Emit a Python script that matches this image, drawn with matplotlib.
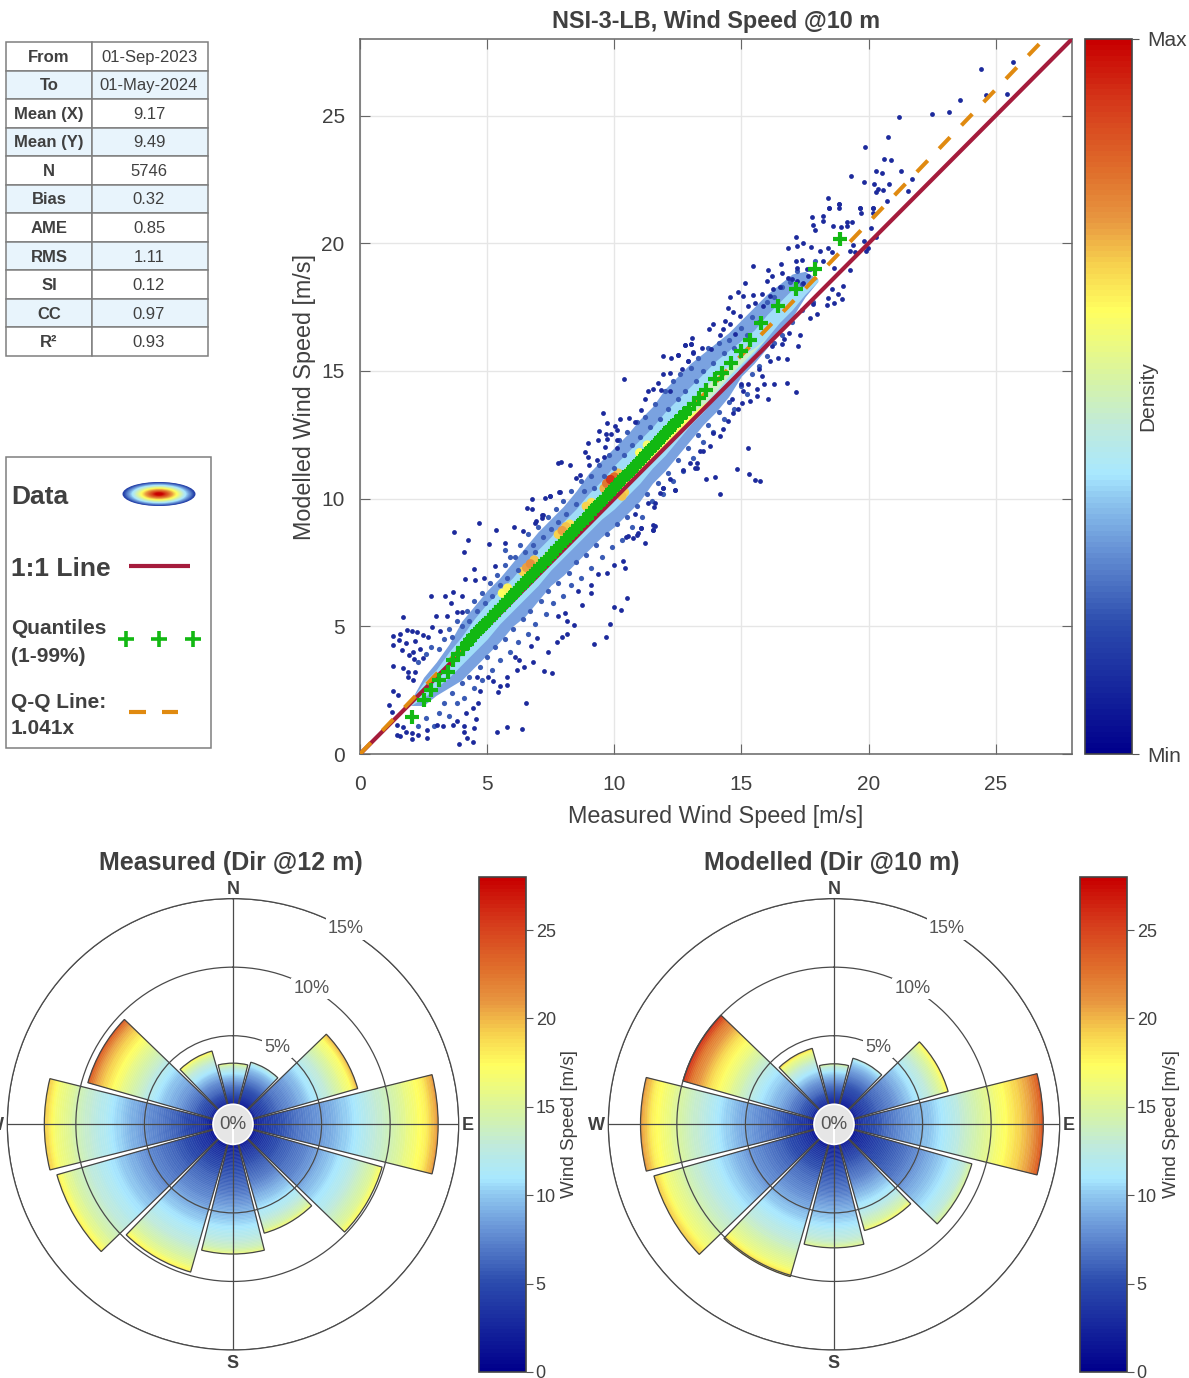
import numpy as np
from matplotlib import pyplot as plt
from matplotlib.cm import ScalarMappable
from matplotlib.colors import LinearSegmentedColormap, Normalize
from matplotlib.patches import Ellipse, Rectangle

W, H = 1189, 1378

# stats table
table_labels = ['From', 'To', 'Mean (X)', 'Mean (Y)', 'N', 'Bias', 'AME', 'RMS', 'SI', 'CC', 'R²']
table_values = ['01-Sep-2023', '01-May-2024', '9.17', '9.49', '5746', '0.32', '0.85', '1.11', '0.12', '0.97', '0.93']

# isolated points
dots_x = [3.71, 4.68, 4.26, 4.10, 4.50, 2.80, 1.69, 1.31, 1.57, 1.83, 2.06, 2.25, 2.49, 2.82, 2.99, 1.31, 1.53, 1.81,
          1.66, 2.16, 2.36, 2.10, 1.93, 2.14, 2.49, 1.31, 1.70, 1.87, 2.16, 1.90, 2.10, 1.31, 1.51, 1.13, 1.25, 1.44,
          1.70, 1.44, 1.57, 1.80, 2.03, 2.29, 2.03, 2.62, 2.62, 3.01, 3.28, 3.67, 3.80, 4.09, 4.10, 4.19, 4.46, 3.91,
          4.50, 4.56, 4.17, 4.46, 4.65, 5.39, 5.79, 6.38, 6.53, 4.72, 5.44, 5.50, 5.79, 5.24, 5.79, 5.05, 4.61, 6.16,
          6.45, 7.23, 7.54, 6.82, 6.26, 6.09, 7.38, 6.71, 6.95, 7.73, 7.93, 8.15, 9.20, 9.67, 9.83, 9.99, 10.25, 10.50,
          8.43, 8.15, 7.80, 8.06, 8.73, 9.10, 9.07, 8.58, 9.36, 9.70, 10.0, 10.42, 10.33, 11.22, 11.53, 11.59, 11.07,
          10.75, 10.48, 10.92, 5.35, 5.09, 6.07, 6.55, 6.75, 6.78, 5.31, 4.13, 3.34, 3.67, 4.0, 3.56, 3.41, 4.0, 3.80,
          3.15, 2.69, 7.86, 7.47, 7.18, 6.42, 5.70, 6.88, 4.52, 4.88,
          10.39, 9.55, 9.70, 9.41, 9.37, 9.67, 9.86, 9.73, 8.98, 8.85, 8.98, 9.33, 9.59, 9.63, 10.09, 10.12, 10.03,
          10.22, 10.12, 10.59, 10.81, 7.9, 7.8, 8.26, 9.0, 8.65, 8.49, 7.84, 7.27, 7.47, 6.92, 7.14, 7.14,
          11.93, 12.22, 12.52, 12.78, 13.02, 13.11, 12.88, 12.65, 12.19, 11.93, 11.73, 11.53, 11.34, 11.82, 12.19,
          11.2, 11.04, 12.39, 11.93, 11.6, 11.56, 11.34, 10.81, 11.53, 11.53, 11.07, 10.88, 10.55, 13.37, 13.24, 13.24,
          18.43, 18.83, 18.83, 19.66, 19.69, 20.16, 17.79, 18.22, 17.83, 17.89, 18.19, 18.59, 18.90, 19.14, 19.36,
          19.14, 20.08, 20.29, 19.82, 19.90, 19.96, 17.14, 17.43, 16.84, 17.20, 17.72, 18.09, 18.41, 18.55, 19.40,
          19.27, 19.46, 18.22, 17.14, 17.39, 16.55, 15.47, 16.03, 16.58, 16.19, 15.99, 15.14, 17.17, 17.56, 18.65,
          19.27, 19.0, 18.55, 18.81, 18.94, 18.41, 18.35, 18.65, 17.83, 17.96, 17.69, 16.84, 16.97, 17.17, 17.43,
          17.63, 16.25, 16.51, 14.88, 14.57, 15.07, 15.47, 15.79, 16.12, 15.27, 15.53, 15.86, 14.48, 14.68, 14.94,
          14.35, 13.89, 13.72, 14.29, 14.55, 14.16, 14.75, 13.04, 12.78, 13.02, 13.43, 13.79, 13.11, 12.52, 12.90,
          17.3, 16.87, 17.24, 16.67, 16.58, 16.19, 16.12, 16.45, 16.78, 15.70, 15.79, 15.90, 16.28, 16.78, 17.13,
          16.06, 15.60, 15.60, 15.27, 14.98, 15.34, 15.01, 15.07, 14.61, 14.88, 14.68, 14.48, 14.29, 13.89, 14.16,
          13.76, 13.5, 12.98, 13.17, 15.24, 14.81, 15.30, 15.53, 15.73, 13.97, 13.61, 14.16, 12.39, 11.80, 12.19,
          11.93, 12.71,
          25.67, 24.41, 24.62, 25.43, 23.6, 23.18, 22.49, 21.21, 20.76, 19.85, 20.62, 20.88, 20.29, 20.54, 21.27,
          19.31, 19.81, 20.21, 20.82, 20.36, 20.29, 20.55, 21.54, 21.69, 18.42, 18.85, 18.44, 19.66, 20.16, 20.16, 20.71]
dots_y = [8.71, 9.03, 8.38, 7.91, 7.25, 6.17, 5.37, 4.63, 4.71, 4.86, 4.82, 4.77, 4.67, 4.99, 5.41, 4.25, 4.46, 4.34,
          4.08, 4.41, 4.10, 4.01, 3.88, 3.71, 3.75, 3.45, 3.36, 3.23, 3.23, 3.03, 2.90, 2.46, 2.31, 1.90, 1.66, 1.14,
          1.07, 0.75, 0.71, 0.88, 0.81, 0.75, 0.58, 0.61, 0.94, 1.14, 1.11, 1.14, 1.31, 1.11, 0.88, 0.61, 0.46, 0.38,
          1.01, 1.36, 1.59, 1.79, 2.01, 0.86, 1.05, 0.97, 2.00, 2.48, 2.44, 2.67, 2.71, 2.84, 3.0, 3.03, 3.03, 3.29,
          3.40, 3.24, 3.19, 3.62, 3.67, 3.78, 3.99, 4.21, 4.54, 4.38, 4.60, 4.71, 4.30, 4.60, 5.11, 5.76, 5.63, 6.12,
          5.06, 5.19, 5.41, 5.52, 5.84, 6.30, 6.60, 6.39, 7.05, 7.08, 7.40, 7.28, 7.57, 8.26, 8.78, 8.94, 8.85,
          8.46, 8.5, 8.65, 8.76, 8.22, 8.89, 9.63, 9.99, 9.59, 7.37, 6.85, 6.17, 6.33, 6.17, 5.93, 5.39, 5.58, 5.58,
          4.80, 4.6, 10.26, 10.09, 9.37, 8.72, 8.26, 9.05, 6.82, 6.89,
          14.7, 13.36, 12.98, 12.63, 12.30, 12.54, 12.54, 12.34, 12.16, 11.84, 11.63, 11.53, 11.63, 12.03, 11.99, 12.31,
          12.86, 13.12, 12.68, 13.16, 12.99, 11.44, 11.41, 11.31, 11.31, 10.94, 10.81, 10.26, 10.03, 10.09, 9.11, 9.37,
          9.24,
          15.58, 15.49, 15.61, 16.01, 16.04, 15.74, 15.39, 15.06, 14.93, 14.89, 14.54, 14.3, 14.21, 14.27, 14.21,
          13.92, 13.46, 10.33, 10.42, 9.83, 9.67, 9.83, 9.4, 8.95, 8.76, 8.85, 8.59, 8.52, 11.86, 11.4, 11.2,
          21.38, 21.53, 21.38, 21.38, 21.18, 21.38, 21.01, 21.05, 20.71, 20.53, 20.88, 20.66, 20.62, 20.85, 20.85,
          20.66, 20.58, 20.23, 20.10, 19.70, 19.83, 20.23, 20.03, 19.83, 19.90, 19.87, 19.70, 19.83, 19.64, 19.93,
          19.70, 19.64, 19.31, 19.29, 19.35, 19.18, 19.12, 18.96, 18.85, 18.70, 18.53, 18.46, 19.05, 18.98, 19.05,
          18.96, 18.33, 18.2, 18.0, 17.83, 17.87, 17.59, 17.65, 17.61, 17.22, 17.09, 18.66, 18.59, 18.53, 18.46,
          18.72, 18.2, 18.27, 18.1, 17.9, 17.94, 17.97, 18.03, 17.94, 17.55, 17.68, 17.55, 17.48, 17.29, 17.16,
          16.96, 16.83, 16.63, 16.63, 16.83, 16.4, 16.44, 16.31, 16.02, 16.04, 15.89, 15.85, 15.72, 15.61, 15.39,
          16.41, 16.48, 15.98, 16.24, 16.04, 15.98, 15.39, 15.52, 15.46, 15.06, 14.80, 14.48, 14.50, 14.54, 14.17,
          13.91, 14.28, 14.02, 14.48, 14.48, 13.82, 13.76, 14.21, 13.89, 13.5, 13.36, 13.04, 12.71, 12.58, 12.45,
          12.06, 11.86, 11.40, 11.21, 11.99, 11.17, 10.98, 10.72, 10.71, 10.84, 10.78, 10.2, 10.33, 10.23, 10.75,
          10.42, 11.14,
          27.09, 26.82, 25.79, 25.85, 25.6, 25.15, 25.07, 24.95, 24.18, 23.77, 23.32, 23.28, 22.84, 22.77, 22.84,
          22.62, 22.4, 22.34, 22.31, 22.14, 22.01, 22.1, 22.06, 22.53, 21.79, 21.53, 21.38, 21.38, 21.4, 21.2, 21.66]

# lighter points at the rim of the cloud, above then below the line
rim_x = [2.3, 2.6, 2.8, 3.1, 3.3, 3.5, 3.6, 3.8, 4.0, 4.2, 4.3, 4.5, 4.6, 4.8, 4.9, 5.1, 5.2, 5.4, 5.5, 5.7, 5.8, 5.7,
         5.9, 6.1, 6.2, 6.3, 6.5, 6.6, 6.8, 6.9, 7.0, 7.2, 7.4, 7.5, 7.7, 7.8, 8.0, 8.1, 8.3, 8.5, 8.7, 8.8, 9.1, 9.2,
         9.4, 9.6, 9.8, 10.0, 10.2, 10.4, 10.5, 10.7, 10.9, 11.0, 11.2, 11.4, 11.6, 11.8, 12.0, 12.1, 12.3, 12.5, 12.6,
         12.8, 13.0, 13.2, 13.3, 13.5, 13.7, 13.9, 14.1, 14.3, 14.5, 14.7, 15.0, 15.2, 15.4, 15.7, 16.0, 16.3, 16.6,
         16.9, 17.2, 17.4, 17.7, 17.9,
         2.3, 2.6, 2.9, 3.1, 3.3, 3.5, 3.6, 3.8, 4.0, 4.1, 4.3, 4.5, 4.7, 4.8, 5.0, 5.2, 5.3, 5.5, 5.7, 5.9, 6.0, 6.2,
         6.4, 6.6, 6.7, 6.9, 7.1, 7.3, 7.4, 7.6, 7.8, 8.0, 8.2, 8.3, 8.5, 8.7, 8.9, 9.1, 9.3, 9.5, 9.7, 9.9, 10.1, 10.3,
         10.5, 10.7, 10.9, 11.1, 11.3, 11.5, 11.7, 11.9, 12.1, 12.3, 12.5, 12.7, 12.9, 13.1, 13.3, 13.5, 13.7, 13.9,
         14.1, 14.3, 14.5, 14.7, 15.0, 15.2, 15.4, 15.7, 16.0, 16.3, 16.6, 17.0, 17.4, 17.8]
rim_y = [3.6, 3.9, 4.2, 4.1, 4.5, 4.9, 4.6, 5.2, 5.0, 5.6, 5.2, 6.0, 5.6, 6.3, 5.9, 6.7, 6.2, 7.0, 6.6, 7.4, 6.9, 8.0,
         7.7, 7.7, 7.2, 8.2, 7.9, 8.6, 8.2, 7.9, 8.9, 8.5, 9.3, 8.8, 9.6, 9.1, 9.9, 9.4, 10.3, 9.8, 10.7, 10.3, 10.9, 10.4,
         11.3, 10.9, 11.7, 11.2, 12.3, 11.7, 12.6, 12.1, 13.0, 12.4, 13.2, 12.8, 13.7, 13.1, 14.2, 13.5, 14.6, 13.9, 14.9,
         14.2, 15.1, 14.6, 15.5, 15.0, 15.9, 15.3, 16.1, 15.7, 16.2, 15.9, 16.7, 16.4, 17.1, 16.9, 17.7, 17.9, 18.3,
         18.5, 18.9, 18.4, 19.0, 19.3,
         1.1, 1.4, 1.1, 1.6, 2.0, 1.5, 2.4, 2.0, 2.8, 2.2, 3.0, 2.6, 3.4, 2.9, 3.8, 3.3, 4.2, 3.7, 4.5, 4.0, 4.9, 4.4,
         5.3, 4.7, 5.6, 5.1, 6.0, 5.5, 6.4, 5.9, 6.7, 6.2, 7.1, 6.6, 7.5, 6.9, 7.8, 7.3, 8.2, 7.7, 8.6, 8.1, 9.0, 8.4,
         9.3, 8.9, 9.7, 9.3, 10.2, 9.9, 10.6, 10.2, 11.0, 10.7, 11.5, 11.1, 12.0, 11.6, 12.5, 12.2, 12.9, 12.6,
         13.4, 13.1, 13.8, 13.5, 14.4, 14.1, 14.9, 15.2, 15.6, 16.1, 16.4, 16.9, 17.4, 17.7]

# edges of the density cloud, read every 0.5 m/s
band_x = [2, 2.5, 3, 3.5, 4, 4.5, 5, 5.5, 6, 6.5, 7, 7.5, 8, 8.5, 9, 9.5, 10, 10.5, 11, 11.5, 12, 12.5, 13, 13.5, 14,
          14.5, 15, 15.5, 16, 16.5, 17, 17.5, 18]
outer_low = [1.9, 1.9, 2.3, 2.6, 2.9, 3.4, 3.9, 4.4, 5.0, 5.4, 6.0, 6.6, 7.0, 7.5, 8.0, 8.5, 8.9, 9.4, 9.9, 10.6, 11.1,
             11.7, 12.3, 12.9, 13.4, 14.0, 14.8, 15.3, 15.9, 16.6, 17.1, 17.9, 18.5]
outer_up = [2.1, 3.0, 3.6, 4.3, 5.2, 5.8, 6.4, 6.9, 7.5, 8.1, 8.7, 9.2, 9.7, 10.3, 11.0, 11.5, 12.0, 12.5, 13.1, 13.6,
            14.3, 14.8, 15.3, 15.7, 16.1, 16.5, 17.0, 17.5, 18.0, 18.4, 18.8, 18.9, 18.6]
light_low = [1.9, 2.2, 2.6, 3.0, 3.5, 4.0, 4.5, 5.1, 5.6, 6.1, 6.6, 7.2, 7.7, 8.2, 8.7, 9.2, 9.6, 10.1, 10.6, 11.2, 11.7,
             12.3, 12.9, 13.4, 14.0, 14.5, 15.2, 15.7, 16.3, 16.9, 17.4, 18.0, 18.5]
light_up = [2.1, 2.8, 3.3, 4.0, 4.6, 5.3, 5.9, 6.4, 6.9, 7.5, 8.0, 8.5, 9.1, 9.6, 10.2, 10.7, 11.3, 11.8, 12.3, 12.8,
            13.4, 13.9, 14.4, 14.9, 15.4, 15.8, 16.2, 16.6, 17.2, 17.7, 18.2, 18.4, 18.6]
pale_low = [2.0, 2.5, 3.0, 3.5, 4.0, 4.5, 5.0, 5.5, 6.1, 6.6, 7.1, 7.6, 8.1, 8.6, 9.1, 9.6, 10.1, 10.6, 11.1, 11.6, 12.1,
            12.7, 13.2, 13.7, 14.2, 14.8, 15.3, 15.8, 16.3, 16.8, 17.3, 17.8, 18.3]
pale_up = [2.0, 2.5, 3.0, 3.6, 4.2, 4.8, 5.4, 6.0, 6.5, 7.1, 7.6, 8.1, 8.6, 9.2, 9.7, 10.2, 10.8, 11.3, 11.8, 12.3, 12.8,
           13.3, 13.8, 14.3, 14.8, 15.2, 15.6, 15.9, 16.3, 16.8, 17.3, 17.8, 18.3]
core_low = [2.0, 2.5, 3.0, 3.5, 4.0, 4.5, 5.0, 5.5, 6.0, 6.5, 7.0, 7.5, 8.0, 8.5, 9.0, 9.5, 10.0, 10.5, 11.0, 11.6, 12.1,
            12.6, 13.1, 13.6, 14.1, 14.6, 15.1, 15.6, 16.1, 16.6, 17.1, 17.6, 18.1]
core_up = [2.0, 2.5, 3.0, 3.5, 4.0, 4.7, 5.3, 5.9, 6.5, 7.1, 7.6, 8.1, 8.6, 9.1, 9.7, 10.2, 10.8, 11.3, 11.7, 12.1, 12.5,
           12.9, 13.3, 13.7, 14.1, 14.6, 15.1, 15.6, 16.1, 16.6, 17.1, 17.6, 18.1]

# density peaks along the cloud, weakest first
peak_x = [11.3, 5.6, 11.0, 5.8, 8.25, 9.1, 6.4, 7.8, 8.9, 10.4, 9.6, 10.15, 10.3, 6.85, 8.1, 9.7, 7.95, 6.55, 6.7, 10.0, 9.85]
peak_y = [12.1, 6.3, 11.8, 6.5, 9.0, 9.85, 7.15, 8.6, 9.7, 10.25, 10.4, 11.0, 10.1, 7.6, 8.9, 10.6, 8.75, 7.3, 7.45, 10.85, 10.75]
peak_level = [0.6, 0.62, 0.62, 0.64, 0.66, 0.66, 0.68, 0.68, 0.68, 0.68, 0.72, 0.7, 0.7, 0.7, 0.7, 0.8, 0.74, 0.74, 0.76,
              0.82, 0.92]

# quantiles
quant_x = [2.03, 2.52, 2.78, 3.10, 3.47, 3.67, 3.85, 4.06, 4.20, 4.32, 4.46, 4.60, 4.72,
           4.84, 4.96, 5.06, 5.16, 5.26, 5.36, 5.46, 5.56, 5.65, 5.74, 5.83, 5.92, 6.01, 6.10, 6.19, 6.28, 6.37, 6.46,
           6.55, 6.64, 6.73, 6.82, 6.91, 7.00, 7.09, 7.18, 7.27, 7.36, 7.46, 7.56, 7.66, 7.76, 7.86, 7.96, 8.06, 8.16,
           8.26, 8.37, 8.48, 8.59, 8.70, 8.81, 8.92, 9.03, 9.14, 9.25, 9.36, 9.47, 9.58, 9.69, 9.80, 9.92, 10.04, 10.16,
           10.28, 10.40, 10.52, 10.64, 10.76, 10.88, 11.00, 11.12, 11.24, 11.36, 11.48, 11.60, 11.72, 11.84, 11.96,
           12.08, 12.20, 12.34, 12.48, 12.62, 12.78, 12.94, 13.12, 13.34, 13.62,
           13.96, 14.22, 14.58, 15.00, 15.34, 15.77, 16.42, 17.13, 17.89, 18.87]
quant_y = [1.44, 2.12, 2.51, 2.90, 3.23, 3.69, 3.92, 4.14, 4.30, 4.47, 4.62, 4.76, 4.88,
           5.00, 5.12, 5.23, 5.34, 5.44, 5.55, 5.65, 5.75, 5.85, 5.94, 6.04, 6.13, 6.22, 6.32, 6.41, 6.50, 6.60, 6.69,
           6.78, 6.88, 6.97, 7.06, 7.16, 7.25, 7.35, 7.44, 7.53, 7.63, 7.73, 7.84, 7.94, 8.05, 8.15, 8.26, 8.36, 8.47,
           8.57, 8.68, 8.80, 8.91, 9.03, 9.15, 9.26, 9.38, 9.50, 9.62, 9.74, 9.85, 9.97, 10.08, 10.20, 10.33, 10.46,
           10.59, 10.72, 10.84, 10.97, 11.10, 11.22, 11.35, 11.47, 11.60, 11.73, 11.85, 11.98, 12.10, 12.23, 12.36,
           12.49, 12.62, 12.75, 12.90, 13.04, 13.19, 13.36, 13.53, 13.72, 13.95, 14.25,
           14.67, 14.93, 15.32, 15.78, 16.21, 16.86, 17.54, 18.22, 18.98, 20.18]

one_x = [0, 28]
one_y = [0, 28]
qq_x = [0, 26.9]
qq_y = [0, 28]

# wind roses
sector_dir = [0, 30, 60, 90, 120, 150, 180, 210, 240, 270, 300, 330]
measured_freq = [3.0, 3.25, 8.0, 13.5, 9.85, 6.8, 8.0, 9.75, 11.9, 12.3, 9.55, 4.1]
modelled_freq = [2.95, 3.55, 7.2, 13.8, 9.0, 6.6, 7.55, 10.1, 12.2, 12.65, 10.0, 4.3]
measured_top = [16, 13, 20, 21, 17.5, 16.5, 16, 18, 18, 19.5, 24, 18]
modelled_top = [15, 12.5, 18, 24, 15, 17, 15.5, 19, 19.5, 21, 26, 19]
# share of a sector's length against share of its top speed
cum_share = [0, 0.036, 0.25, 0.43, 0.61, 0.79, 0.94, 1]
speed_share = [0.05, 0.16, 0.33, 0.43, 0.57, 0.71, 0.86, 1]

cmap_pos = [0, 0.18, 0.29, 0.357, 0.39, 0.455, 0.52, 0.62, 0.685, 0.75, 0.815, 0.915, 1]
cmap_col = ['#00008c', '#2c4cae', '#6a96d8', '#8fc8f0', '#a8e8ff', '#bfeadd', '#d5f3a8', '#ffff60', '#f7d24e',
            '#e89640', '#e0702c', '#d5381a', '#c80000']
wind_cmap = LinearSegmentedColormap.from_list('wind', list(zip(cmap_pos, cmap_col)), N=128)

plt.rcParams['font.family'] = ['Liberation Sans', 'DejaVu Sans']
TXT = '#404040'
HOLE = 1.46


def px_axes(left, top, right, bottom, **kw):
    return fig.add_axes([left / W, 1 - bottom / H, (right - left) / W, (bottom - top) / H], **kw)


def add_cbar(cax, vmax, ticks, labels, size, pad):
    cb = fig.colorbar(ScalarMappable(Normalize(0, vmax), wind_cmap), cax=cax)
    cb.set_ticks(ticks)
    cb.set_ticklabels(labels)
    cb.ax.tick_params(labelsize=size, labelcolor=TXT, color='#555555', length=5, width=0.8, pad=pad)
    cb.outline.set_edgecolor('#444444')
    cb.outline.set_linewidth(1.2)
    return cb


def draw_rose(center_x, freq, top, title):
    r = 225.7
    ax = px_axes(center_x - r, 1124.3 - r, center_x + r, 1124.3 + r, projection='polar')
    ax.set_theta_zero_location('N')
    ax.set_theta_direction(-1)
    ax.set_ylim(-HOLE, 15)
    norm = Normalize(0, 28)
    for d, f, t in zip(sector_dir, freq, top):
        edges = np.linspace(0, f, 81)
        mids = (edges[:-1] + edges[1:]) / 2
        speed = np.interp(mids / f, cum_share, speed_share) * t
        # the gradient is stacked slices from the hub out
        cols = wind_cmap(norm(speed))
        ax.bar(np.radians(d), f / 80, np.radians(28), bottom=edges[:-1], color=cols, edgecolor=cols, linewidth=0.3,
               zorder=1)
        ax.bar(np.radians(d), f + HOLE, np.radians(28), bottom=-HOLE, fill=False, edgecolor='#444444', linewidth=0.9,
               zorder=2)
    ax.set_axisbelow(False)
    ax.set_thetagrids([0, 90, 180, 270], labels=[])
    ax.set_rgrids([5, 10, 15], labels=[])
    ax.grid(True, color='#4a4a4a', linewidth=0.9)
    ax.spines['polar'].set_color('#4a4a4a')
    ax.spines['polar'].set_linewidth(0.9)
    ax.bar(0, HOLE, 2 * np.pi, bottom=-HOLE, color='#e6e6e6', edgecolor='white', linewidth=1.2, zorder=5)
    ax.text(0, -HOLE, '0%', ha='center', va='center', fontsize=13.5, color='#555555', zorder=6)
    for pct in [5, 10, 15]:
        ax.text(np.radians(30), pct, f'{pct}%', ha='center', va='center', fontsize=13, color='#555555', zorder=6,
                bbox=dict(facecolor='white', edgecolor='none', pad=1.5))
    over.text(center_x - 2, 863, title, ha='center', va='center', fontsize=18, fontweight='bold', color=TXT)
    over.text(center_x, 890, 'N', ha='center', va='center', fontsize=13, fontweight='bold', color=TXT)
    over.text(center_x, 1364, 'S', ha='center', va='center', fontsize=13, fontweight='bold', color=TXT)
    over.text(center_x + 235, 1126, 'E', ha='center', va='center', fontsize=13, fontweight='bold', color=TXT)
    over.text(center_x - 238, 1126, 'W', ha='center', va='center', fontsize=13, fontweight='bold', color=TXT)
    cax = px_axes(center_x + 246, 877, center_x + 293, 1372)
    add_cbar(cax, 28, [0, 5, 10, 15, 20, 25], ['0', '5', '10', '15', '20', '25'], 13, 2)
    over.text(center_x + 337, 1124, 'Wind Speed [m/s]', rotation=90, ha='center', va='center', fontsize=13.5, color=TXT)


fig = plt.figure(figsize=(W / 100, H / 100), dpi=100)
over = fig.add_axes([0, 0, 1, 1])
over.set_xlim(0, W)
over.set_ylim(H, 0)
over.axis('off')

# table
row_h = (356 - 42) / len(table_labels)
for i, (lab, val) in enumerate(zip(table_labels, table_values)):
    y0 = 42 + i * row_h
    shade = '#e8f4fc' if i % 2 else 'white'
    over.add_patch(Rectangle((6, y0), 86, row_h, facecolor=shade, edgecolor='#7f7f7f', linewidth=1.1))
    over.add_patch(Rectangle((92, y0), 116, row_h, facecolor=shade, edgecolor='#7f7f7f', linewidth=1.1))
    over.text(49, y0 + row_h / 2 + 1, lab, ha='center', va='center', fontsize=12, color=TXT, fontweight='bold')
    over.text(149, y0 + row_h / 2 + 1, val, ha='center', va='center', fontsize=12, color=TXT)

# legend box
over.add_patch(Rectangle((6, 457), 205, 291, facecolor='white', edgecolor='#7f7f7f', linewidth=1.1))
over.text(11, 497, 'Data', va='center', fontsize=19, fontweight='bold', color=TXT)
over.text(11, 569, '1:1 Line', va='center', fontsize=19, fontweight='bold', color=TXT)
over.text(11, 629, 'Quantiles', va='center', fontsize=15, fontweight='bold', color=TXT)
over.text(11, 656, '(1-99%)', va='center', fontsize=15, fontweight='bold', color=TXT)
over.text(11, 702, 'Q-Q Line:', va='center', fontsize=15, fontweight='bold', color=TXT)
over.text(11, 729, '1.041x', va='center', fontsize=15, fontweight='bold', color=TXT)
for lev in np.linspace(0.15, 1, 30):
    over.add_patch(Ellipse((159, 494), 73 * (1.1 - lev) / 0.95, 24 * (1.1 - lev) / 0.95, facecolor=wind_cmap(lev),
                           linewidth=0))
over.plot([129, 190], [566, 566], color='#a51c3c', linewidth=3, solid_capstyle='butt')
over.plot([126, 159, 193], [639, 639, 639], '+', color='#12b812', markersize=11, markeredgewidth=2.6)
over.plot([129, 146], [712, 712], color='#e08a10', linewidth=3, solid_capstyle='butt')
over.plot([162, 178], [712, 712], color='#e08a10', linewidth=3, solid_capstyle='butt')

# scatter
ax = px_axes(360, 39, 1072, 754)
ax.set_xlim(0, 28)
ax.set_ylim(0, 28)
ax.grid(True, color='#e6e6e6', linewidth=1)
ax.set_axisbelow(True)
ax.fill_between(band_x, outer_low, outer_up, color='#7aa2e0', linewidth=0, zorder=2)
ax.fill_between(band_x, light_low, light_up, color='#a0dcf8', linewidth=0, zorder=2.1)
ax.fill_between(band_x, pale_low, pale_up, color='#cdeec8', linewidth=0, zorder=2.2)
ax.fill_between(band_x, core_low, core_up, color='#ffff60', linewidth=0, zorder=2.3)
ax.scatter(peak_x, peak_y, s=45, c=peak_level, cmap=wind_cmap, vmin=0, vmax=1, linewidths=0, zorder=2.4)
ax.scatter(rim_x, rim_y, s=14, color='#3a5bb5', linewidths=0, zorder=2.5)
ax.scatter(dots_x, dots_y, s=12, color='#1c2a9c', linewidths=0, zorder=3)
ax.plot(one_x, one_y, color='#a51c3c', linewidth=3, solid_capstyle='butt', zorder=4)
ax.plot(qq_x, qq_y, color='#e08a10', linewidth=2.9, linestyle=(0, (3.9, 4.1)), dash_capstyle='butt', zorder=5)
ax.plot(quant_x, quant_y, '+', color='#12b812', markersize=10, markeredgewidth=3, zorder=6)
ax.set_xticks([0, 5, 10, 15, 20, 25])
ax.set_yticks([0, 5, 10, 15, 20, 25])
ax.tick_params(direction='in', top=True, right=True, length=7, width=0.8, color='#666666', labelsize=15,
               labelcolor=TXT)
ax.tick_params(axis='x', pad=15)
ax.tick_params(axis='y', pad=11)
for s in ax.spines.values():
    s.set_color('#666666')
    s.set_linewidth(1.1)
ax.set_xlabel('Measured Wind Speed [m/s]', fontsize=16.8, color=TXT, labelpad=8)
ax.set_ylabel('Modelled Wind Speed [m/s]', fontsize=16.8, color=TXT, labelpad=4)
ax.set_title('NSI-3-LB, Wind Speed @10 m', fontsize=16.8, fontweight='bold', color=TXT, pad=8)

cax = px_axes(1085, 39, 1132, 754)
add_cbar(cax, 1, [0, 1], ['Min', 'Max'], 15, 6)
over.text(1148, 396, 'Density', rotation=90, ha='center', va='center', fontsize=15, color=TXT)

draw_rose(233, measured_freq, measured_top, 'Measured (Dir @12 m)')
draw_rose(834, modelled_freq, modelled_top, 'Modelled (Dir @10 m)')

fig.savefig('out.png', dpi=100)
